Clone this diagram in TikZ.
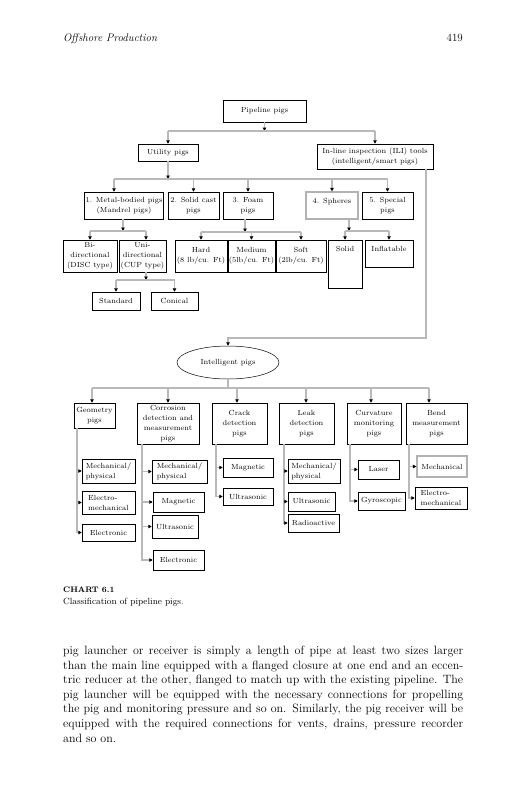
\documentclass[tikz,border=0pt]{standalone}
\usetikzlibrary{arrows.meta,shapes.geometric}
\newcommand{\chartfont}{\fontsize{7.4}{10}\selectfont}
\newcommand{\bodyfont}{\fontsize{12}{14.6}\selectfont}
\begin{document}
\begin{tikzpicture}[x=1pt,y=-1pt,
  bx/.style={draw=black,line width=0.5pt,inner sep=1pt,align=center,font=\chartfont},
  gbx/.style={bx,draw=gray!60,line width=1.2pt},
  lbx/.style={bx,align=left},
  sz/.style 2 args={minimum width=#1,minimum height=#2},
  con/.style={draw=gray!55,line width=1.1pt},
  arr/.style={con,-{Triangle[black,length=3.5pt,width=3.5pt]}},
  bodyline/.style={anchor=base west,inner sep=0pt,font=\bodyfont}]
\useasboundingbox (0,0) rectangle (528,800);
% header
\node[anchor=base west,inner sep=0pt,font=\fontsize{11}{13}\selectfont\itshape] (hd) at (63,41.5) {Offshore Production};
\node[anchor=base east,inner sep=0pt,font=\fontsize{11}{13}\selectfont] (pg) at (463,41.5) {419};
% upper chart
\node[bx,sz={83}{22}] (pp) at (264.5,111) {Pipeline pigs};
\node[bx,sz={60}{17}] (up) at (168,152.5) {Utility pigs};
\node[bx,sz={116}{25}] (ili) at (375,156.5) {In-line inspection (ILI) tools\\(intelligent/smart pigs)};
\node[bx,sz={78}{27}] (m1) at (124,205.5) {1. Metal-bodied pigs\\(Mandrel pigs)};
\node[bx,sz={51}{27}] (m2) at (193.5,205.5) {2. Solid cast\\pigs};
\node[bx,sz={50}{27}] (m3) at (248,205.5) {3. Foam\\pigs};
\node[gbx,sz={52}{27}] (m4) at (332,205.5) {4. Spheres\\\mbox{}};
\node[bx,sz={51}{27}] (m5) at (387.5,205.5) {5. Special\\pigs};
\node[bx,sz={54}{32}] (bi) at (90,256) {Bi-\\directional\\(DISC type)};
\node[bx,sz={47}{32}] (uni) at (142.5,256) {Uni-\\directional\\(CUP type)};
\node[bx,sz={52}{32}] (hard) at (201,256) {Hard\\(8 lb/cu. Ft)};
\node[bx,sz={45}{32}] (med) at (251.5,256) {Medium\\(5lb/cu. Ft)};
\node[bx,sz={50}{32}] (soft) at (301,256) {Soft\\(2lb/cu. Ft)};
\node[bx,sz={34}{48}] (solid) at (345,264) {Solid\\\mbox{}\\\mbox{}\\\mbox{}};
\node[bx,sz={48}{27}] (infl) at (389,253.5) {Inflatable\\\mbox{}};
\node[bx,sz={48}{18}] (std) at (116,301) {Standard};
\node[bx,sz={47}{18}] (con) at (174.5,301) {Conical};
% upper connectors
\coordinate (t0) at (264.5,131); \coordinate (tL) at (168,131); \coordinate (tR) at (375,131);
\draw[arr] (pp.south) -- (t0);
\draw[con] (tL) -- (tR);
\draw[arr] (tL) -- (up.north);
\draw[arr] (tR) -- (ili.north);
\coordinate (u0) at (168,179); \coordinate (uL) at (114,179); \coordinate (uR) at (387.5,179);
\draw[arr] (up.south) -- (u0);
\draw[con] (uL) -- (uR);
\draw[arr] (uL) -- (uL |- m1.north);
\draw[arr] (m2.north |- u0) -- (m2.north);
\draw[arr] (m3.north |- u0) -- (m3.north);
\draw[arr] (m4.north |- u0) -- (m4.north);
\draw[arr] (m5.north |- u0) -- (m5.north);
\coordinate (a0) at (123,231); \coordinate (aL) at (90,231); \coordinate (aR) at (146,231);
\draw[arr] (a0 |- m1.south) -- (a0);
\draw[con] (aL) -- (aR);
\draw[arr] (aL) -- (aL |- bi.north);
\draw[arr] (aR) -- (aR |- uni.north);
\coordinate (f0) at (245,232);
\draw[arr] (f0 |- m3.south) -- (f0);
\draw[con] (hard.north |- f0) -- (soft.north |- f0);
\draw[arr] (hard.north |- f0) -- (hard.north);
\draw[arr] (med.north |- f0) -- (med.north);
\draw[arr] (soft.north |- f0) -- (soft.north);
\coordinate (s0) at (349,231);
\draw[arr] (s0 |- m4.south) -- (s0);
\draw[con] (solid.north |- s0) -- (infl.north |- s0);
\draw[arr] (solid.north |- s0) -- (solid.north);
\draw[arr] (infl.north |- s0) -- (infl.north);
\coordinate (n0) at (146,280);
\draw[arr] (n0 |- uni.south) -- (n0);
\draw[con] (std.north |- n0) -- (con.north |- n0);
\draw[arr] (std.north |- n0) -- (std.north);
\draw[arr] (con.north |- n0) -- (con.north);
% intelligent pigs
\node[draw,line width=0.5pt,ellipse,sz={102}{33},inner sep=0pt,font=\chartfont] (ip) at (228,362.5) {Intelligent pigs};
\coordinate (ix) at (426,0); \coordinate (jt) at (228,338);
\draw[arr] (ili.south -| ix) |- (jt) -- (ip.north);
% lower boxes
\node[bx,sz={41}{25}] (geo) at (94.5,415.5) {Geometry\\pigs};
\node[bx,sz={62}{41}] (cor) at (168,423.5) {Corrosion\\detection and\\measurement\\pigs};
\node[bx,sz={55}{41}] (cra) at (239.5,423.5) {Crack\\detection\\pigs};
\node[bx,sz={55}{41}] (leak) at (306.5,423.5) {Leak\\detection\\pigs};
\node[bx,sz={54}{41}] (cur) at (374,423.5) {Curvature\\monitoring\\pigs};
\node[bx,sz={61}{41}] (bend) at (436.5,423.5) {Bend\\measurement\\pigs};
\coordinate (e0) at (228,388); \coordinate (eL) at (92,388); \coordinate (eR) at (429,388);
\draw[con] (ip.south) -- (e0);
\draw[con] (eL) -- (eR);
\coordinate (dcor) at (168,388); \coordinate (dcra) at (237,388);
\coordinate (dleak) at (306,388); \coordinate (dcur) at (371,388);
\draw[arr] (eL) -- (eL |- geo.north);
\draw[arr] (dcor) -- (dcor |- cor.north);
\draw[arr] (dcra) -- (dcra |- cra.north);
\draw[arr] (dleak) -- (dleak |- leak.north);
\draw[arr] (dcur) -- (dcur |- cur.north);
\draw[arr] (eR) -- (eR |- bend.north);
% children
\node[lbx,sz={53}{24}] (g1) at (108.5,471) {Mechanical/\\physical};
\node[lbx,sz={53}{23}] (g2) at (108.5,502.5) {Electro-\\mechanical};
\node[lbx,sz={53}{17}] (g3) at (108.5,532.5) {Electronic};
\node[lbx,sz={55}{23}] (c1) at (179.5,471.5) {Mechanical/\\physical};
\node[bx,sz={51}{20}] (c2) at (178.5,502) {Magnetic};
\node[bx,sz={46}{23}] (c3) at (175,526.5) {Ultrasonic};
\node[bx,sz={51}{20}] (c4) at (178.5,560) {Electronic};
\node[bx,sz={50}{19}] (k1) at (248,467.5) {Magnetic};
\node[bx,sz={50}{17}] (k2) at (248,496.5) {Ultrasonic};
\node[lbx,sz={52}{24}] (l1) at (314,471) {Mechanical/\\physical};
\node[bx,sz={47}{19}] (l2) at (311.5,501.5) {Ultrasonic};
\node[bx,sz={51}{18}] (l3) at (313.5,523) {Radioactive};
\node[bx,sz={41}{19}] (v1) at (378.5,469.5) {Laser};
\node[bx,sz={47}{18}] (v2) at (381.5,501) {Gyroscopic};
\node[gbx,sz={50}{21}] (b1) at (442,466.5) {Mechanical};
\node[lbx,sz={52}{22}] (b2) at (441,498) {Electro-\\mechanical};
\coordinate (gx) at (77,0); \coordinate (cx) at (142,0); \coordinate (kx) at (216,0);
\coordinate (lx) at (284,0); \coordinate (vx) at (350,0); \coordinate (bx) at (409,0);
\draw[arr] (geo.south -| gx) |- (g3.west);
\draw[arr] (gx |- g1.west) -- (g1.west);
\draw[arr] (gx |- g2.west) -- (g2.west);
\draw[arr] (cor.south -| cx) |- (c4.west);
\draw[arr] (cx |- c1.west) -- (c1.west);
\draw[arr] (cx |- c2.west) -- (c2.west);
\draw[arr] (cx |- c3.west) -- (c3.west);
\draw[arr] (cra.south -| kx) |- (k2.west);
\draw[arr] (kx |- k1.west) -- (k1.west);
\draw[arr] (leak.south -| lx) |- (l3.west);
\draw[arr] (lx |- l1.west) -- (l1.west);
\draw[arr] (lx |- l2.west) -- (l2.west);
\draw[arr] (cur.south -| vx) |- (v2.west);
\draw[arr] (vx |- v1.west) -- (v1.west);
\draw[arr] (bend.south -| bx) |- (b2.west);
\draw[arr] (bx |- b1.west) -- (b1.west);
% caption
\node[anchor=base west,inner sep=0pt,font=\fontsize{8}{10}\selectfont\bfseries] (cap1) at (63,592) {CHART 6.1};
\node[anchor=base west,inner sep=0pt,font=\fontsize{9}{11}\selectfont] (cap2) at (63,604.5) {Classification of pipeline pigs.};
% body text
\node[bodyline] (p1) at (63,654.5) {\makebox[400pt][s]{pig launcher or receiver is simply a length of pipe at least two sizes larger}};
\node[bodyline] (p2) at (63,669.1) {\makebox[400pt][s]{than the main line equipped with a flanged closure at one end and an eccen-}};
\node[bodyline] (p3) at (63,683.7) {\makebox[400pt][s]{tric reducer at the other, flanged to match up with the existing pipeline. The}};
\node[bodyline] (p4) at (63,698.3) {\makebox[400pt][s]{pig launcher will be equipped with the necessary connections for propelling}};
\node[bodyline] (p5) at (63,712.9) {\makebox[400pt][s]{the pig and monitoring pressure and so on. Similarly, the pig receiver will be}};
\node[bodyline] (p6) at (63,727.5) {\makebox[400pt][s]{equipped with the required connections for vents, drains, pressure recorder}};
\node[bodyline] (p7) at (63,742.1) {and so on.};
\end{tikzpicture}
\end{document}
